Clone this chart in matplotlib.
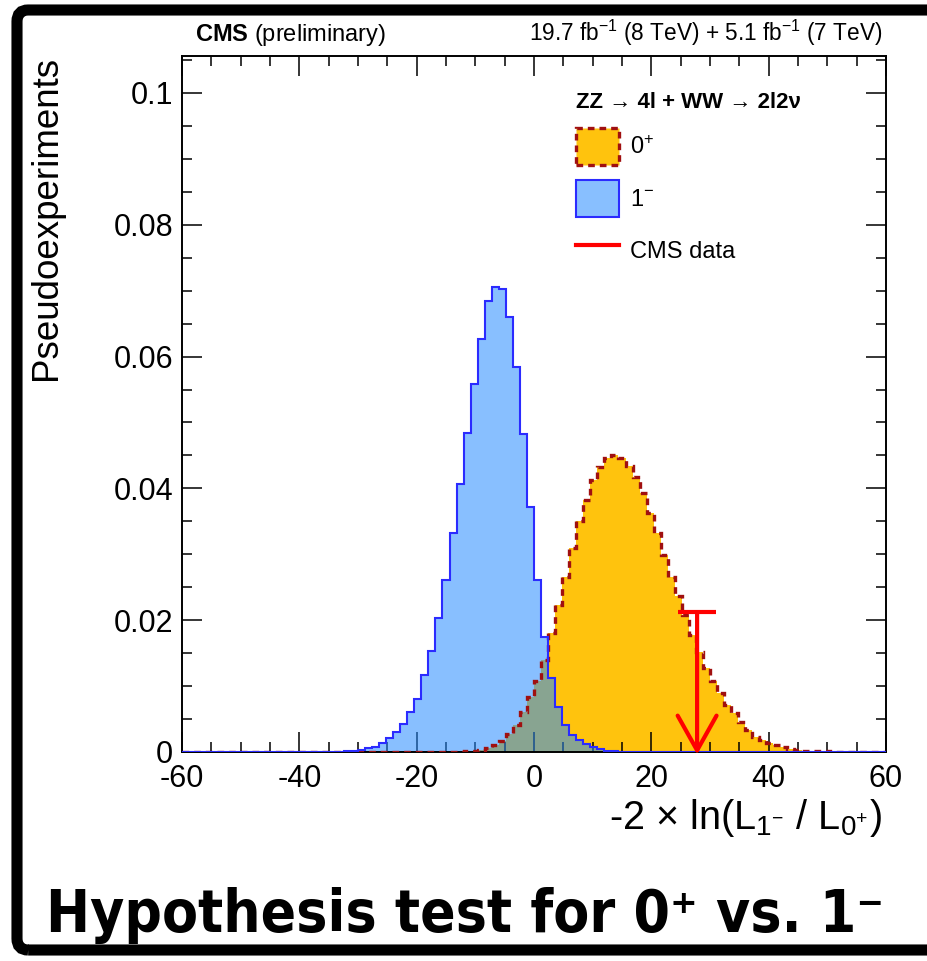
import numpy as np
import matplotlib
matplotlib.use('Agg')
import matplotlib.pyplot as plt
from matplotlib.patches import Patch, FancyBboxPatch
from matplotlib.lines import Line2D
from matplotlib.ticker import MultipleLocator, FuncFormatter

plt.rcParams['font.family'] = ['Liberation Sans', 'DejaVu Sans']
plt.rcParams['mathtext.fontset'] = 'custom'
plt.rcParams['mathtext.rm'] = 'Liberation Sans'
plt.rcParams['mathtext.it'] = 'Liberation Sans:italic'
plt.rcParams['mathtext.bf'] = 'Liberation Sans:bold'
plt.rcParams['axes.unicode_minus'] = False

# binning of the test statistic -2 ln(L1-/L0+)
x_lo, x_hi, n_bins = -60, 60, 100
edges = np.linspace(x_lo, x_hi, n_bins + 1)

# pseudoexperiments generated under 1- (bins 23..61 non-empty)
spin1_minus = [0.0] * 23 + [
    0.0001, 0.0002, 0.0003, 0.0006, 0.0008, 0.0013, 0.0021, 0.0030, 0.0042, 0.0060,
    0.0081, 0.0117, 0.0153, 0.0203, 0.0261, 0.0332, 0.0407, 0.0484, 0.0558, 0.0626,
    0.0685, 0.0705, 0.0702, 0.0660, 0.0584, 0.0483, 0.0372, 0.0261, 0.0175, 0.0112,
    0.0069, 0.0041, 0.0026, 0.0018, 0.0012, 0.0008, 0.0004, 0.0002, 0.0001,
] + [0.0] * 38

# pseudoexperiments generated under 0+ (bins 40..91 non-empty)
spin0_plus = [0.0] * 40 + [
    0.0001, 0.0002, 0.0003, 0.0006, 0.0011, 0.0017, 0.0028, 0.0041, 0.0061, 0.0084,
    0.0108, 0.0140, 0.0181, 0.0223, 0.0266, 0.0309, 0.0350, 0.0382, 0.0413, 0.0433,
    0.0446, 0.0451, 0.0446, 0.0434, 0.0417, 0.0393, 0.0363, 0.0332, 0.0299, 0.0266,
    0.0236, 0.0208, 0.0178, 0.0151, 0.0127, 0.0107, 0.0089, 0.0071, 0.0059, 0.0046,
    0.0033, 0.0023, 0.0018, 0.0013, 0.0010, 0.0007, 0.0005, 0.0003, 0.0002, 0.0002,
    0.0001, 0.0001,
] + [0.0] * 8

# observed value and the height of the marker
obs_value = 27.8
obs_height = 0.0212

orange = '#ffc30d'
dark_red = '#a01010'
blue_fill = (0.15, 0.55, 1.0, 0.55)
blue_line = '#2b2bff'
dash = (0, (2.0, 1.5))

fig = plt.figure(figsize=(9.27, 9.61), dpi=100)
ax = fig.add_axes([0.1963, 0.2175, 0.7595, 0.7242])

ax.stairs(spin0_plus, edges, fill=True, color=orange, zorder=1)
ax.stairs(spin1_minus, edges, fill=True, color=blue_fill, zorder=2)
ax.stairs(spin0_plus, edges, color=dark_red, lw=2.4, linestyle=dash, zorder=3)
ax.stairs(spin1_minus, edges, color=blue_line, lw=1.5, zorder=4)

# CMS data marker: T bar + arrow down to zero
ax.hlines(obs_height, obs_value - 3.2, obs_value + 3.2, color='red', lw=3, zorder=6)
ax.annotate('', xy=(obs_value, -0.0004), xytext=(obs_value, obs_height),
            arrowprops=dict(arrowstyle='->,head_length=1.25,head_width=0.7',
                            color='red', lw=3, shrinkA=0, shrinkB=0,
                            mutation_scale=20),
            annotation_clip=False, zorder=6)

ax.set_xlim(x_lo, x_hi)
ax.set_ylim(0, 0.1056)
ax.xaxis.set_major_locator(MultipleLocator(20))
ax.xaxis.set_minor_locator(MultipleLocator(5))
ax.yaxis.set_major_locator(MultipleLocator(0.02))
ax.yaxis.set_minor_locator(MultipleLocator(0.005))
ax.yaxis.set_major_formatter(FuncFormatter(lambda v, p: f'{v:g}'))
ax.tick_params(which='both', direction='in', top=True, right=True, width=1.1)
ax.tick_params(which='major', length=14.5, labelsize=22)
ax.tick_params(axis='x', which='major', pad=9)
ax.tick_params(axis='y', which='major', pad=6.5)
ax.tick_params(which='minor', length=7.2)
for s in ax.spines.values():
    s.set_linewidth(1.4)

ax.set_ylabel('Pseudoexperiments', fontsize=26.5, loc='top')
ax.yaxis.set_label_coords(-0.168, 1.0)
ax.set_xlabel(r'-2 $\times$ ln(L$_{1^{-}}$ / L$_{0^{+}}$)', fontsize=28.5, loc='right')
ax.xaxis.set_label_coords(0.994, -0.064)

handles = [
    Patch(facecolor=orange, edgecolor=dark_red, linestyle=dash, lw=2.4, label=r'0$^{+}$'),
    Patch(facecolor=blue_fill, edgecolor=blue_line, lw=1.5, label=r'1$^{-}$'),
    Line2D([], [], color='red', lw=3, label='CMS data'),
]
ax.legend(handles=handles, loc='upper left', bbox_to_anchor=(0.559, 0.949),
          frameon=False, title='ZZ → 4l + WW → 2l2ν',
          title_fontproperties={'weight': 'bold', 'size': 16}, fontsize=17,
          handlelength=1.86, handleheight=2.0, labelspacing=0.66,
          handletextpad=0.45, borderpad=0, borderaxespad=0, alignment='left')

fig.text(195 / 927, 1 - 41 / 961, r'$\mathbf{CMS}$ (preliminary)', fontsize=17,
         va='baseline')
fig.text(882 / 927, 1 - 41 / 961, r'19.7 fb$^{-1}$ (8 TeV) + 5.1 fb$^{-1}$ (7 TeV)',
         fontsize=16.3, ha='right', va='baseline')

fig.text(465 / 927, 1 - 932 / 961, 'Hypothesis test for 0⁺ vs. 1⁻', fontsize=42,
         fontweight='bold', family='DejaVu Sans', fontstretch='condensed',
         ha='center', va='baseline')

# slide frame
fig.patches.append(FancyBboxPatch((17 / 927, 11 / 961), 940 / 927, 940 / 961,
                                  boxstyle='round,pad=0,rounding_size=0.012',
                                  transform=fig.transFigure, fill=False,
                                  edgecolor='black', lw=8, zorder=10))

fig.savefig('out.png', dpi=100)
